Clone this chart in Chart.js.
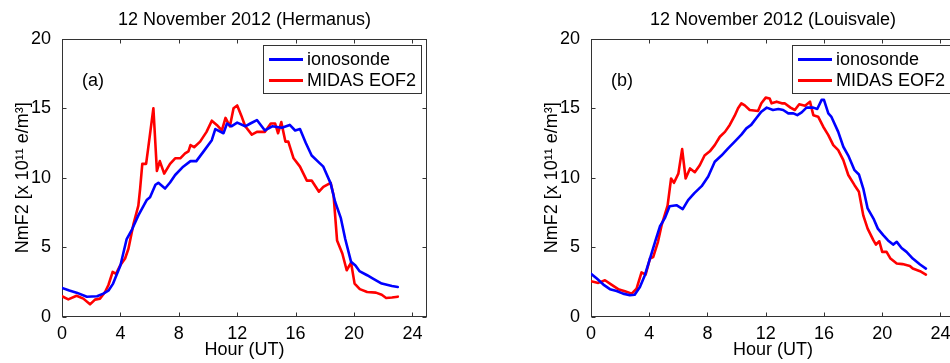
<!DOCTYPE html>
<html>
<head>
<meta charset="utf-8">
<script src="https://cdn.jsdelivr.net/npm/chart.js@4/dist/chart.umd.min.js"></script>
<style>
html,body{margin:0;padding:0;background:#fff;overflow:hidden;width:950px;height:363px;position:relative;}
.panel{position:absolute;top:0;height:363px;}
.panel canvas{position:absolute;left:0;top:0;}
.legend{position:absolute;left:263px;top:45px;width:159px;height:49px;box-sizing:border-box;border:1px solid #333;background:#fff;font:18px "Liberation Sans",Arial,sans-serif;color:#000;white-space:nowrap;}
.legend .sw{position:absolute;left:5px;width:34px;height:3px;}
.legend .lt{position:absolute;left:43px;line-height:22px;}
.plabel{position:absolute;left:82px;top:69px;font:18px "Liberation Sans",Arial,sans-serif;line-height:22px;color:#000;}
</style>
</head>
<body>
<div class="panel" style="left:0;width:475px;">
  <canvas id="c1" width="475" height="363"></canvas>
  <div class="plabel">(a)</div>
  <div class="legend">
    <div class="sw" style="top:12px;background:#0000ff"></div><div class="lt" style="top:2px">ionosonde</div>
    <div class="sw" style="top:33px;background:#ff0000"></div><div class="lt" style="top:23px">MIDAS EOF2</div>
  </div>
</div>
<div class="panel" style="left:529px;width:474px;">
  <canvas id="c2" width="474" height="363"></canvas>
  <div class="plabel">(b)</div>
  <div class="legend">
    <div class="sw" style="top:12px;background:#0000ff"></div><div class="lt" style="top:2px">ionosonde</div>
    <div class="sw" style="top:33px;background:#ff0000"></div><div class="lt" style="top:23px">MIDAS EOF2</div>
  </div>
</div>
<script>
// ---- Data ----
const xTicks = [0, 4, 8, 12, 16, 20, 24];
const yTicks = [0, 5, 10, 15, 20];
const seriesNames = ["ionosonde", "MIDAS EOF2"];
const panelTitles = ["12 November 2012 (Hermanus)", "12 November 2012 (Louisvale)"];

// Hermanus - ionosonde
const hermIonoHours = [0,0.5,1,1.7,2.4,2.83,3.2,3.5,4,4.43,4.8,5.23,5.8,6.03,6.4,6.6,7.06,7.4,7.75,8.3,8.8,9.2,9.7,10.26,10.5,11.06,11.3,11.6,12,12.55,12.9,13.35,13.9,14.4,15.06,15.6,15.97,16.3,16.7,17.1,17.7,17.9,18.4,18.7,19.1,19.4,19.8,20.1,20.37,20.9,21.3,21.9,22.6,23.0];
const hermIonoValues = [2.09,1.9,1.75,1.46,1.49,1.68,1.92,2.4,3.7,5.6,6.3,7.3,8.4,8.6,9.5,9.64,9.23,9.66,10.2,10.8,11.2,11.2,11.9,12.7,13.5,13.2,13.9,13.7,13.96,13.7,13.9,14.15,13.4,13.7,13.6,13.8,13.4,13.5,12.5,11.6,11.0,10.8,9.6,8.3,7.1,5.6,3.96,3.7,3.3,3.0,2.76,2.4,2.23,2.16];
// Hermanus - MIDAS EOF2
const hermMidasHours = [0,0.43,1,1.46,1.92,2.26,2.6,2.95,3.18,3.47,3.7,3.98,4.32,4.55,4.9,5.23,5.35,5.5,5.76,5.9,6.26,6.5,6.7,7.0,7.4,7.75,8.1,8.43,8.66,8.8,9.05,9.46,9.9,10.26,10.6,10.95,11.2,11.5,11.75,12.0,12.27,12.55,13.0,13.35,13.9,14.3,14.6,14.8,15.02,15.3,15.5,15.86,16.3,16.77,17.1,17.6,17.9,18.4,18.6,18.84,19.2,19.5,19.8,20.04,20.4,20.9,21.5,21.9,22.2,22.6,23.0];
const hermMidasValues = [1.49,1.27,1.53,1.32,0.91,1.25,1.32,1.8,2.3,3.24,3.1,3.7,4.2,4.9,6.7,8.0,9.2,11.0,11.0,12.1,15.0,10.5,11.2,10.3,11.0,11.4,11.4,11.75,11.9,12.35,12.2,12.6,13.3,14.1,13.8,13.4,14.3,13.7,15.0,15.2,14.5,13.7,13.1,13.3,13.3,13.9,13.9,13.2,14.0,12.6,12.6,11.4,10.8,9.8,9.8,9.0,9.35,9.64,8.75,5.5,4.56,3.36,3.9,2.4,2.0,1.8,1.75,1.6,1.37,1.4,1.46];

// Louisvale - ionosonde
const louIonoHours = [0,0.4,0.85,1.3,1.76,2.2,2.67,3.0,3.36,3.7,4.05,4.4,4.73,5.07,5.4,5.87,6.3,6.67,7.1,7.6,8.05,8.5,8.96,9.4,9.87,10.33,10.67,11.0,11.36,11.7,12.07,12.5,12.87,13.2,13.55,13.9,14.17,14.47,14.8,15.27,15.54,15.84,16.0,16.3,16.5,16.98,17.33,17.67,18.1,18.4,18.7,19.0,19.4,19.7,20.07,20.4,20.75,21.0,21.33,21.67,22.1,22.6,23.0];
const louIonoValues = [3.1,2.76,2.33,2.0,1.87,1.68,1.56,1.6,2.16,3.0,4.2,5.4,6.5,7.1,7.96,8.03,7.75,8.4,8.9,9.4,10.1,11.15,11.6,12.1,12.6,13.1,13.55,13.8,14.3,14.75,15.04,14.87,14.94,14.87,14.63,14.63,14.5,14.7,15.04,15.04,14.94,15.6,15.6,14.63,14.4,13.3,12.23,11.6,10.55,10.24,9.23,7.8,7.07,6.35,5.88,5.5,5.2,5.4,4.96,4.68,4.2,3.77,3.48];
// Louisvale - MIDAS EOF2
const louMidasHours = [0,0.5,0.96,1.4,1.87,2.33,2.8,3.13,3.47,3.75,4.05,4.27,4.6,4.85,5.26,5.5,5.7,6.0,6.26,6.5,6.8,7.13,7.47,7.8,8.16,8.5,8.85,9.2,9.53,9.87,10.1,10.33,10.56,10.9,11.47,11.7,12.0,12.27,12.4,12.75,13.1,13.3,13.7,14.0,14.3,14.7,15.04,15.27,15.6,15.95,16.3,16.64,16.98,17.33,17.67,18.1,18.4,18.7,19.0,19.4,19.57,19.8,20.0,20.3,20.57,21.0,21.4,21.9,22.1,22.6,23.0];
const louMidasValues = [2.57,2.45,2.64,2.33,2.0,1.85,1.68,2.04,3.2,3.05,4.2,4.3,5.4,6.6,8.0,9.95,9.64,10.3,12.06,9.95,10.67,10.4,10.9,11.6,11.9,12.35,12.95,13.3,13.8,14.46,15.0,15.35,15.2,14.87,14.8,15.35,15.76,15.7,15.35,15.47,15.35,15.35,15.04,14.87,15.28,15.18,15.47,14.5,14.39,13.67,13.07,12.35,11.99,11.27,10.2,9.47,9.0,7.3,6.35,5.5,5.2,5.44,4.68,4.68,4.2,3.84,3.8,3.67,3.48,3.29,3.05];

// ---- Chart setup ----
const FONT = '"Liberation Sans", Arial, Helvetica, sans-serif';
Chart.defaults.font.family = FONT;
Chart.defaults.font.size = 18;
Chart.defaults.color = '#000';

function pts(h, v) { return h.map((x, i) => ({ x: x, y: v[i] })); }

const framePlugin = {
  id: 'frame',
  beforeDatasetsDraw(chart) {
    const { ctx, chartArea, scales } = chart;
    const L = Math.round(chartArea.left) + 0.5, R = Math.round(chartArea.right) - 0.5;
    const T = Math.round(chartArea.top) + 0.5, B = Math.round(chartArea.bottom) - 0.5;
    ctx.save();
    ctx.strokeStyle = '#333';
    ctx.lineWidth = 1;
    ctx.strokeRect(L, T, R - L, B - T);
    ctx.beginPath();
    scales.x.ticks.forEach(t => {
      const p = Math.round(scales.x.getPixelForValue(t.value)) + 0.5;
      ctx.moveTo(p, B); ctx.lineTo(p, B - 4);
      ctx.moveTo(p, T); ctx.lineTo(p, T + 4);
    });
    scales.y.ticks.forEach(t => {
      const p = Math.round(scales.y.getPixelForValue(t.value)) + 0.5;
      ctx.moveTo(L, p); ctx.lineTo(L + 4, p);
      ctx.moveTo(R, p); ctx.lineTo(R - 4, p);
    });
    ctx.stroke();
    ctx.restore();
  }
};

function makeChart(id, title, iono, midas) {
  return new Chart(document.getElementById(id), {
    type: 'line',
    data: {
      datasets: [
        { label: seriesNames[0], data: iono, borderColor: '#0000ff', backgroundColor: '#0000ff', borderWidth: 2.6, pointRadius: 0, tension: 0, borderJoinStyle: 'round', borderCapStyle: 'round' },
        { label: seriesNames[1], data: midas, borderColor: '#ff0000', backgroundColor: '#ff0000', borderWidth: 2.6, pointRadius: 0, tension: 0, borderJoinStyle: 'round', borderCapStyle: 'round' }
      ]
    },
    options: {
      responsive: false,
      animation: false,
      devicePixelRatio: 1,
      layout: { padding: { left: 0, right: 48, top: 0, bottom: 0 } },
      plugins: {
        legend: { display: false },
        tooltip: { enabled: false },
        title: { display: true, text: title, fullSize: false, color: '#000', font: { size: 18, weight: 'normal' }, padding: { top: 9, bottom: 8 } }
      },
      scales: {
        x: {
          type: 'linear', min: 0, max: 25,
          afterBuildTicks: s => { s.ticks = xTicks.map(v => ({ value: v })); },
          afterFit: s => { s.height = 46; },
          grid: { display: false }, border: { display: false },
          ticks: { padding: -2, maxRotation: 0, autoSkip: false, color: '#000', font: { size: 18 } },
          title: { display: true, text: 'Hour (UT)', color: '#000', font: { size: 18 }, padding: { top: 0, bottom: 2 } }
        },
        y: {
          type: 'linear', min: 0, max: 20,
          afterBuildTicks: s => { s.ticks = yTicks.map(v => ({ value: v })); },
          afterFit: s => { s.width = 62; },
          grid: { display: false }, border: { display: false },
          ticks: { padding: 3, color: '#000', font: { size: 18 } },
          title: { display: true, text: 'NmF2 [x 10¹¹ e/m³]', color: '#000', font: { size: 18 }, padding: { top: 12, bottom: 0 } }
        }
      }
    },
    plugins: [framePlugin]
  });
}

makeChart('c1', panelTitles[0], pts(hermIonoHours, hermIonoValues), pts(hermMidasHours, hermMidasValues));
makeChart('c2', panelTitles[1], pts(louIonoHours, louIonoValues), pts(louMidasHours, louMidasValues));
</script>
</body>
</html>
